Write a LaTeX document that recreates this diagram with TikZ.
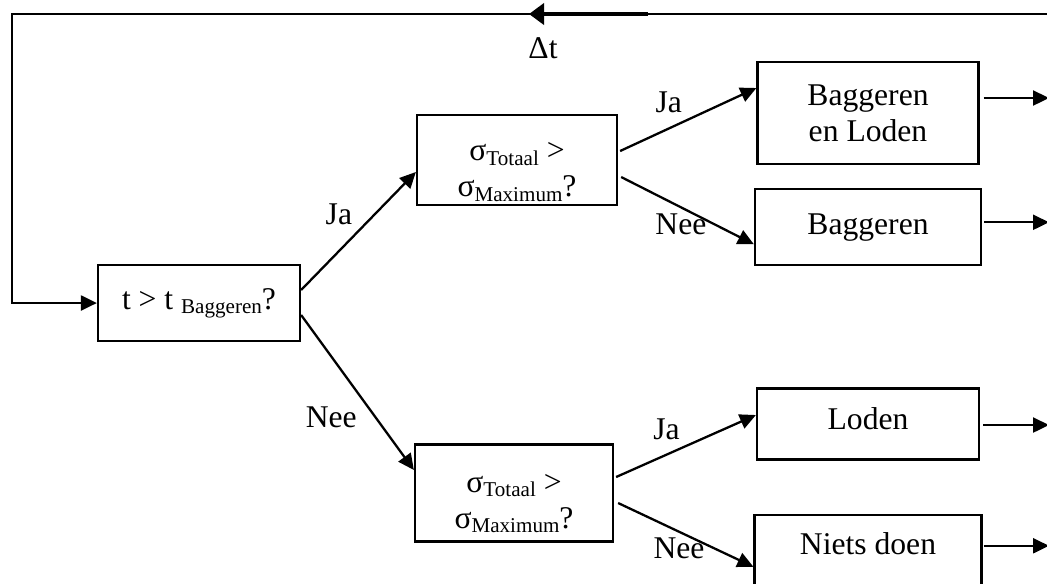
\documentclass[tikz,border=0pt]{standalone}
\usepackage{fontspec}
\setmainfont{Liberation Serif}
\usetikzlibrary{positioning, arrows.meta, calc}
\newcommand{\sbs}[1]{\raisebox{-2.5pt}{\fontsize{12}{12}\selectfont #1}}

\begin{document}
\begin{tikzpicture}[
  x=0.02cm, y=-0.02cm,
  node distance=0.46cm and 1.8cm,
  block/.style={rectangle, draw, line width=1.3pt, inner sep=2pt,
                font=\fontsize{18}{20.5}\selectfont, align=center},
  lbl/.style={font=\fontsize{18}{20.5}\selectfont, inner sep=3pt},
  >={Triangle[length=0.32cm, width=0.3cm]}, line width=1.3pt
]
\useasboundingbox (0,0) rectangle (1047,583);

\node[block, minimum width=4.04cm, minimum height=1.52cm] (t)  at (199,303) {t > t \sbs{Baggeren}?};
\node[block, minimum width=4.0cm,  minimum height=1.8cm]  (s1) at (517,160) {\rule{0pt}{24pt}σ\sbs{Totaal} >\\ σ\sbs{Maximum}?};
\node[block, minimum width=3.96cm, minimum height=1.94cm] (s2) at (514,493) {\rule{0pt}{22pt}σ\sbs{Totaal} >\\ σ\sbs{Maximum}?};
\node[block, minimum width=4.42cm, minimum height=2.04cm] (bl) at (868,113) {Baggeren\\ en Loden};
\node[block, minimum width=4.52cm, minimum height=1.52cm, below=0.46cm of bl] (b) {Baggeren};
\node[block, minimum width=4.44cm, minimum height=1.42cm, text depth=6pt, below=2.42cm of b] (l) {Loden};
\node[block, minimum width=4.54cm, minimum height=1.52cm, text depth=10pt, below=1.06cm of l] (n) {Niets doen};

% Feedback loop
\coordinate (fbR) at (1047,14);
\coordinate (fbL) at (12,14);
\coordinate (da) at (648,14);
\coordinate (db) at (529,14);
\draw[->] (fbR) -- (fbL) |- (t.west);
\draw[line width=2.2pt, -{Triangle[length=0.3cm, width=0.42cm]}] (da) -- (db);
\node[lbl] (dt) at (543,48) {Δt};

% Decisions
\draw[->] ($(t.east)+(0,-13)$) -- node[midway, above left, lbl] {Ja} ($(s1.west)+(0,12)$);
\draw[->] ($(t.east)+(0,12)$)  -- node[pos=.55, below left, lbl] {Nee} ($(s2.west)+(0,-23)$);
\draw[->] ($(s1.east)+(2,-9)$) -- node[midway, above left, lbl] {Ja} ($(bl.west)+(0,-25)$);
\draw[->] ($(s1.east)+(3,17)$) -- node[pos=.45, below, lbl] {Nee} ($(b.west)+(0,17)$);
\draw[->] ($(s2.east)+(2,-16)$) -- node[midway, above left, lbl] {Ja} ($(l.west)+(0,-9)$);
\draw[->] ($(s2.east)+(4,10)$) -- node[pos=.45, below, lbl] {Nee} ($(n.west)+(0,14)$);

% Outputs
\coordinate (edge) at (1049,0);
\draw[->] ($(bl.east)+(4,-15)$) coordinate (bl1) -- (bl1 -| edge);
\draw[->] ($(b.east)+(2,-5)$)   coordinate (b1)  -- (b1 -| edge);
\draw[->] ($(l.east)+(3,1)$)    coordinate (l1)  -- (l1 -| edge);
\draw[->] ($(n.east)+(1,-7)$)   coordinate (n1)  -- (n1 -| edge);
\end{tikzpicture}
\end{document}
